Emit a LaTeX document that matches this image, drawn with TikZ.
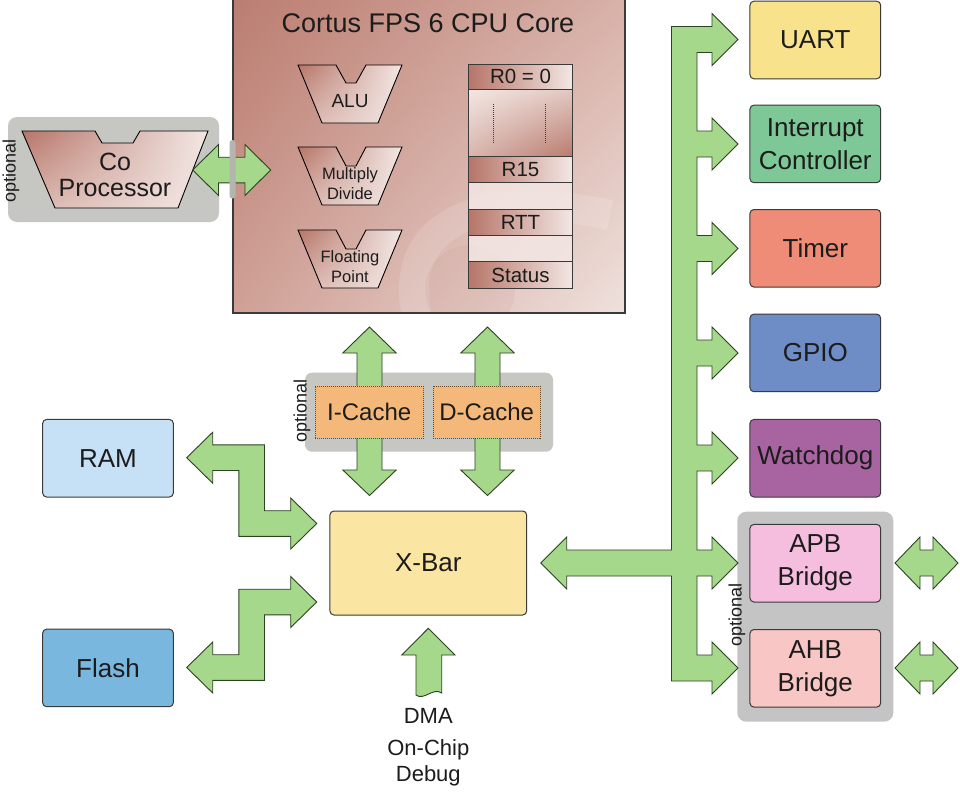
\documentclass[tikz,border=0pt]{standalone}
\usepackage{fontspec}
\setmainfont{Liberation Sans}
\usetikzlibrary{shapes.geometric,shadings}
\definecolor{arrgreen}{HTML}{A6D88C}
\definecolor{arrline}{HTML}{2A4320}
\definecolor{txt}{HTML}{1C1C1C}
\definecolor{boxline}{HTML}{3A3A3A}
\definecolor{grp}{HTML}{C6C7C2}
\definecolor{grpb}{HTML}{C4C4C4}
\definecolor{grpbar}{HTML}{B4B5AF}
\definecolor{cuart}{HTML}{F8E28C}
\definecolor{cintc}{HTML}{7DC896}
\definecolor{ctimer}{HTML}{EE8C78}
\definecolor{cgpio}{HTML}{6E8CC6}
\definecolor{cwdog}{HTML}{A864A0}
\definecolor{capb}{HTML}{F6BEDE}
\definecolor{cahb}{HTML}{F8C6C4}
\definecolor{cram}{HTML}{C6E0F5}
\definecolor{cflash}{HTML}{7AB7DF}
\definecolor{cxbar}{HTML}{FAE5A2}
\definecolor{ccache}{HTML}{F4B97A}
\definecolor{cachel}{HTML}{6A4A26}
\definecolor{brdark}{HTML}{B67568}
\definecolor{brmid}{HTML}{D9B5AD}
\definecolor{brlight}{HTML}{F3E7E4}
\definecolor{cpuul}{HTML}{BB7D71}
\definecolor{cpuur}{HTML}{D8B1A8}
\definecolor{cpull}{HTML}{CFA096}
\definecolor{cpulr}{HTML}{EFE1DD}
\definecolor{dotul}{HTML}{F3E7E4}
\definecolor{dotur}{HTML}{E2C8C1}
\definecolor{dotll}{HTML}{D8B6AE}
\definecolor{dotlr}{HTML}{B97A6D}
\definecolor{swirl}{HTML}{B98276}
\begin{document}
\begin{tikzpicture}[x=1pt,y=-1pt,
  fatarrow/.style={fill=arrgreen, draw=arrline, line width=0.9pt, line join=miter},
  plainbox/.style={draw=boxline, line width=1pt, rounded corners=4pt, inner sep=0pt, align=center, text=txt},
  perbox/.style={plainbox, minimum width=130.7pt, minimum height=77.6pt, font=\fontsize{26}{33}\selectfont},
  grpbox/.style={fill=grp, rounded corners=9pt},
  optlabel/.style={rotate=90, text=txt, inner sep=0pt, font=\fontsize{18}{20}\selectfont},
  trapshape/.style={draw=black, line width=0.9pt, upper left=brdark, upper right=brlight, lower left=brmid, lower right=brlight},
  reglabel/.style={draw=boxline, line width=0.8pt, left color=brdark, right color=brlight, minimum width=104.4pt, inner sep=0pt, text=txt, font=\fontsize{20.5}{22}\selectfont},
  regblank/.style={draw=boxline, line width=0.8pt, fill=brlight, fill opacity=0.85},
  lbl/.style={text=txt, inner sep=0pt, align=center}
]
\useasboundingbox (0,0) rectangle (960,792);
\fill[white] (0,0) rectangle (960,792);

% ---------- CPU core ----------
\shade[upper left=cpuul, upper right=cpuur, lower left=cpull, lower right=cpulr] (233,-1) rectangle (625,313);
\begin{scope}
  \clip (233,-1) rectangle (625,313);
  \draw[white, opacity=0.14, line width=30pt] (418,320) .. controls (395,230) and (470,185) .. (610,215);
  \fill[swirl, opacity=0.10] (470,290) circle (45);
\end{scope}
\draw[boxline, line width=1.1pt] (233,-1) rectangle (625,313);
\node[lbl, font=\fontsize{27}{32}\selectfont] (cputitle) at (428,23) {Cortus FPS 6 CPU Core};

% execution units
\draw[trapshape] (298,65) -- (336,65) -- (346,83) -- (356,83) -- (366,65) -- (402,65) -- (378,123) -- (322,123) -- cycle;
\node[lbl, font=\fontsize{19}{20}\selectfont] (alu) at (350,101) {ALU};
\draw[trapshape] (298,147) -- (336,147) -- (346,166) -- (356,166) -- (366,147) -- (402,147) -- (378,205) -- (322,205) -- cycle;
\node[lbl, font=\fontsize{16.5}{20}\selectfont] (muldiv) at (350,184) {Multiply\\Divide};
\draw[trapshape] (298,230) -- (336,230) -- (346,249) -- (356,249) -- (366,230) -- (402,230) -- (378,288) -- (322,288) -- cycle;
\node[lbl, font=\fontsize{16.5}{20}\selectfont] (fpu) at (350,267) {Floating\\Point};

% register file
\node[reglabel, minimum height=25pt] (r0) at (520.5,76.8) {R0 = 0};
\shade[upper left=dotul, upper right=dotur, lower left=dotll, lower right=dotlr] (468.3,89.3) rectangle (572.7,156.7);
\draw[boxline, line width=0.8pt] (468.3,89.3) rectangle (572.7,156.7);
\draw[boxline, line width=1pt, densely dotted] (493.3,104) -- (493.3,144);
\draw[boxline, line width=1pt, densely dotted] (545.7,104) -- (545.7,144);
\node[reglabel, minimum height=26pt] (r15) at (520.5,169.7) {R15};
\draw[regblank] (468.3,182.7) rectangle (572.7,209);
\node[reglabel, minimum height=26pt] (rtt) at (520.5,222) {RTT};
\draw[regblank] (468.3,235) rectangle (572.7,261.7);
\node[reglabel, minimum height=26.6pt] (status) at (520.5,275) {Status};

% ---------- Co-processor ----------
\fill[grpbox] (8,117) rectangle (219,222);
\draw[trapshape] (22,131) -- (95,131) -- (102,143) -- (133,143) -- (140,131) -- (208,131) -- (178,208) -- (55,208) -- cycle;
\node[lbl, font=\fontsize{25}{26}\selectfont] (copro) at (115,175) {Co\\Processor};
\node[optlabel] (opt1) at (11,171) {optional};
\draw[fatarrow] (192.7,170) -- (218.5,144.5) -- (218.5,157.2) -- (245,157.2) -- (245,144.5) -- (270.7,170) -- (245,195.5) -- (245,182.8) -- (218.5,182.8) -- (218.5,195.5) -- cycle;
\fill[grpbar, rounded corners=3pt] (229.5,140) rectangle (235.5,198.5);

% ---------- Caches ----------
\fill[grpbox, rounded corners=7pt] (305,372.7) rectangle (553,451.7);
\draw[fatarrow] (369.5,327) -- (396.2,353) -- (382,353) -- (382,470) -- (396.2,470) -- (369.5,495.5) -- (342.8,470) -- (357,470) -- (357,353) -- (342.8,353) -- cycle;
\draw[fatarrow] (487.5,327) -- (514.2,353) -- (500,353) -- (500,470) -- (514.2,470) -- (487.5,495.5) -- (460.8,470) -- (475,470) -- (475,353) -- (460.8,353) -- cycle;
\node[fill=ccache, draw=cachel, line width=1pt, densely dotted, minimum width=108.3pt, minimum height=52.3pt, inner sep=0pt, text=txt, font=\fontsize{24}{26}\selectfont] (icache) at (369.2,412.2) {I-Cache};
\node[fill=ccache, draw=cachel, line width=1pt, densely dotted, minimum width=106.7pt, minimum height=52.3pt, inner sep=0pt, text=txt, font=\fontsize{24}{26}\selectfont] (dcache) at (486.7,412.2) {D-Cache};
\node[optlabel] (opt2) at (302,411) {optional};

% ---------- Memories and X-Bar ----------
\node[perbox, fill=cram] (ram) at (108,458.2) {RAM};
\node[perbox, fill=cflash] (flash) at (108,667.9) {Flash};
\node[plainbox, fill=cxbar, minimum width=196.7pt, minimum height=104pt, font=\fontsize{26}{30}\selectfont] (xbar) at (428.3,563) {X-Bar};

\draw[fatarrow] (186.7,457.7) -- (212.7,432.2) -- (212.7,444.9) -- (264.5,444.9) -- (264.5,510.7) -- (290.7,510.7) -- (290.7,498) -- (316.7,523.5) -- (290.7,549) -- (290.7,536.3) -- (238.9,536.3) -- (238.9,470.5) -- (212.7,470.5) -- (212.7,483.2) -- cycle;
\draw[fatarrow] (186.7,667.5) -- (212.7,642) -- (212.7,654.7) -- (238.9,654.7) -- (238.9,589.2) -- (290.7,589.2) -- (290.7,576.5) -- (316.7,602) -- (290.7,627.5) -- (290.7,614.8) -- (264.5,614.8) -- (264.5,680.3) -- (212.7,680.3) -- (212.7,693) -- cycle;

% DMA
\draw[fatarrow] (428.3,628.3) -- (455,655) -- (441.7,655) -- (441.7,693) .. controls (433,687) and (424,701) .. (416,695) -- (416,655) -- (401.7,655) -- cycle;
\node[lbl, font=\fontsize{22}{26}\selectfont] (dma) at (428.3,716) {DMA};
\node[lbl, font=\fontsize{22}{26}\selectfont] (ocd) at (428.3,763) {On-Chip\\Debug};

% ---------- Peripheral bus ----------
\fill[grpb, rounded corners=9pt] (737.3,511.7) rectangle (893.3,721.7);
\draw[fatarrow] (671.5,26.5) -- (712,26.5) -- (712,13.5) -- (738,39.5) -- (712,65.5) -- (712,52.5) -- (697,52.5)
 -- (697,131) -- (712,131) -- (712,118) -- (738,144) -- (712,170) -- (712,157) -- (697,157)
 -- (697,235.5) -- (712,235.5) -- (712,222.5) -- (738,248.5) -- (712,274.5) -- (712,261.5) -- (697,261.5)
 -- (697,340) -- (712,340) -- (712,327) -- (738,353) -- (712,379) -- (712,366) -- (697,366)
 -- (697,445) -- (712,445) -- (712,432) -- (738,458) -- (712,484) -- (712,471) -- (697,471)
 -- (697,550) -- (712,550) -- (712,537) -- (738,563) -- (712,589) -- (712,576) -- (697,576)
 -- (697,655) -- (712,655) -- (712,642) -- (738,668) -- (712,694) -- (712,681) -- (671.5,681)
 -- (671.5,576) -- (566.7,576) -- (566.7,589) -- (540.7,563) -- (566.7,537) -- (566.7,550) -- (671.5,550)
 -- cycle;

\node[perbox, fill=cuart] (uart) at (815.3,40) {UART};
\node[perbox, fill=cintc] (intc) at (815.3,143.9) {Interrupt\\Controller};
\node[perbox, fill=ctimer] (timer) at (815.3,248.3) {Timer};
\node[perbox, fill=cgpio] (gpio) at (815.3,352.9) {GPIO};
\node[perbox, fill=cwdog] (wdog) at (815.3,458.2) {Watchdog};
\node[perbox, fill=capb] (apb) at (815.3,563.2) {APB\\Bridge};
\node[perbox, fill=cahb] (ahb) at (815.3,668.3) {AHB\\Bridge};
\node[optlabel] (opt3) at (737,615) {optional};

\draw[fatarrow] (895,563) -- (920,537) -- (920,550) -- (933,550) -- (933,537) -- (958,563) -- (933,589) -- (933,576) -- (920,576) -- (920,589) -- cycle;
\draw[fatarrow] (895,668) -- (920,642) -- (920,655) -- (933,655) -- (933,642) -- (958,668) -- (933,694) -- (933,681) -- (920,681) -- (920,694) -- cycle;
\end{tikzpicture}
\end{document}
